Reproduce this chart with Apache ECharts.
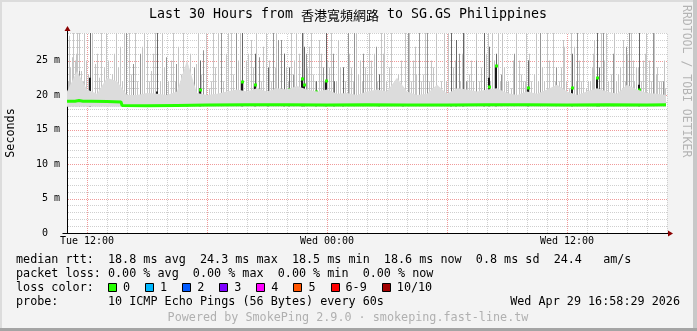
<!DOCTYPE html>
<html><head><meta charset="utf-8">
<script src="https://cdn.jsdelivr.net/npm/echarts@6/dist/echarts.min.js"></script>
<style>html,body{margin:0;padding:0;background:#f3f3f3}#c{width:697px;height:331px}</style>
</head><body><div id="c"></div><script>
// ---------- data (minutes since Tue 11:00, values in ms) ----------
const X_MAX = 1800, Y_MAX = 29;
const xLabelTimes = [60, 780, 1500];
const xLabelNames = ['Tue 12:00', 'Wed 00:00', 'Wed 12:00'];
const majorTimes = [60, 420, 780, 1140, 1500];
const majorValues = [5, 10, 15, 20, 25];
const yLabelValues = [0, 5, 10, 15, 20, 25];

const medianTimes = [0, 24, 36, 48, 72, 120, 162, 165, 240, 330, 420, 540, 660, 780, 900, 1020, 1140, 1260, 1380, 1500, 1620, 1740, 1797];
const medianValues = [19.1, 19.1, 19.2, 19.1, 19.1, 19.05, 19.0, 18.5, 18.45, 18.5, 18.55, 18.6, 18.6, 18.55, 18.6, 18.55, 18.55, 18.6, 18.6, 18.55, 18.6, 18.55, 18.6];

const hazeTimes = [0,30,60,90,120,150,180,210,240,270,300,330,360,390,420,450,480,510,540,570,600,630,660,690,720,750,780,810,840,870,900,930,960,990,1020,1050,1080,1110,1140,1170,1200,1230,1260,1290,1320,1350,1380,1410,1440,1470,1500,1530,1560,1590,1620,1650,1680,1710,1740,1770,1797];
const hazeTops = [20.5,23.5,20.8,20.2,22.5,22,20,20,20.3,20.2,20,20.5,25,20.3,20,20.2,20.5,20.8,20.5,21,20.5,21,20.8,21.3,20.8,20.5,20.8,20.2,20.3,20,20.5,20.8,20.5,22.5,20.5,20,20.2,21.5,20.2,21,20.8,20.5,20.8,21,20.3,20,20.5,20.2,20.8,21.5,20.5,20,20.5,21,20.5,20.2,21.5,20.8,20.3,20.2,20];

const lightSpikes = [[6,28.6],[15,25.5],[24,25],[30,29.5],[42,23.5],[57,25],[84,24.5],[117,29.5],[123,25],[135,23],[147,29.5],[159,27],[186,29.5],[240,28],[252,23.5],[312,25],[342,23],[387,24.5],[417,29.5],[426,21],
[453,29.5],[477,26],[492,29.5],[513,25],[537,25],[543,26],[552,28],[597,29.5],[606,25],[624,24],[672,29.5],[687,29.5],[696,26],[726,27],[738,23],[756,28],[786,24],[813,28],[852,24],[873,23],[894,24],
[906,29.5],[921,26],[948,26],[951,29.5],[966,24],[981,21],[993,23],[1026,29.5],[1038,25],[1047,23],[1068,23],[1092,25],[1107,29.5],[1116,20.5],[1143,29.5],[1158,24],[1185,26],[1206,23],[1218,22],[1227,29.5],[1257,26],[1275,29.5],[1293,29.5],[1311,24],[1323,22],[1332,21],
[1356,25],[1368,22],[1377,29.5],[1392,22],[1401,23],[1440,29.5],[1452,21],[1476,22],[1488,28],[1491,27],[1506,21],[1521,27],[1542,22],[1557,21],[1563,22],[1578,26],[1581,28],[1602,29.5],[1617,29.5],[1632,23],[1653,23],[1668,28],[1698,25],[1707,24],[1728,25],[1737,29.5],[1746,25],[1767,23],[1776,22],[1794,21],
[3,22],[10,24],[19,29.5],[27,26],[36,29.5],[48,22],[51,29.5],[63,23],[75,29.5],[90,26],[96,22.5],[102,29.5],[111,24],[129,22],[141,26],[153,24],[165,22],[171,29.5],[192,23],[204,29.5],[210,22],[225,27],[231,29.5],[246,22],[258,26],[264,29.5],[279,22],[285,29.5],[291,24],[303,22],[318,29.5],[324,22],[333,27],[348,29.5],[354,22],[369,26],[375,22],[393,29.5],[402,23],[432,22],[438,29.5],[444,24],[468,22],[483,29.5],[498,23],[519,29.5],[528,22],[558,24],[567,29.5],[582,22],[588,27],[612,22],[627,29.5],[657,24],[663,22],[681,25],[702,22],[708,29.5],[720,24],[732,29.5],[744,22],[762,26],[771,22],[780,25],[792,29.5],[807,22],[819,24],[834,22],[846,26],[858,22],[867,29.5],[879,25],[885,22],[900,23],[912,25],[930,22],[942,29.5],[957,22],[972,29.5],[987,22],[1002,25],[1014,29.5],[1032,22],[1044,27],[1062,22],[1074,29.5],[1086,22],[1098,24],[1122,22],[1131,29.5],[1137,22],[1164,25],[1179,22],[1191,29.5],[1200,22],[1212,25],[1236,22],[1242,24],[1263,29.5],[1269,22],[1281,25],[1299,22],[1305,29.5],[1317,22],[1338,25],[1347,29.5],[1362,23],[1374,22],[1386,26],[1407,29.5],[1413,22],[1425,24],[1431,22],[1446,25],[1458,29.5],[1464,22],[1482,24],[1497,22],[1512,29.5],[1527,22],[1536,25],[1548,29.5],[1569,22],[1575,24],[1587,22],[1611,25],[1623,22],[1641,29.5],[1647,22],[1659,24],[1674,22],[1680,26],[1692,29.5],[1701,22],[1713,24],[1722,22],[1734,26],[1752,22],[1761,29.5],[1770,24],[1782,22],[1791,25]];

const midSpikes = [[36,23.5],[177,29.5],[198,24.5],[219,26],[297,25.5],[327,24.5],[363,24],[381,24],[408,26.5],[462,29.5],[507,29.5],[576,25.5],[618,29.5],[633,28],[642,28],[651,26],[678,23],[717,26],[768,24],[798,26],[828,24],[843,29.5],[861,29.5],[888,26],[927,27],[936,23],[1023,29.5],[1056,29.5],[1080,29.5],[1152,29.5],[1167,28],[1176,26],[1197,22],[1227,25],[1251,29.5],[1302,23],[1341,26],[1383,25],[1419,29.5],[1467,24],[1530,29.5],[1608,29.5],[1638,26],[1677,27],[1686,29.5],[1758,29.5],[1788,22]];

const darkTimes =     [69,270,360,399,525,564,603,651,666,705,711,747,777,801,828,936,1008,1152,1167,1188,1251,1266,1287,1383,1515,1590,1596,1716];
const darkGrayTops =  [29.5,29.5,22,25,29.5,26,24,26,24,29.5,27,22,29.5,22,24,23,21,29.5,28,29.5,29.5,27,26,25,26,29.5,24,29.5];
const darkBlackTops = [22.5,20.5,20.0,21.0,22.0,21.5,20.3,20.3,20.8,22.5,21.5,20.6,22.2,19.5,19.2,20.0,20.5,20.3,20.5,20.6,19.8,22.5,24.3,21.1,21.1,22.6,20.6,21.5];
const darkMedians =   [20.2,19.1,19.8,20.8,21.9,21.4,20.2,20.2,20.7,22.4,21.4,20.5,22.1,19.4,19.2,19.5,19.5,19.6,20.0,20.5,19.7,21.2,24.2,21.0,21.0,22.5,20.5,20.7];

const rttStats = ['18.8', '24.3', '18.5', '18.6', '0.8', '24.4'];
const lossStats = ['0.00', '0.00', '0.00', '0.00'];
const lossLabels = ['0', '1', '2', '3', '4', '5', '6-9', '10/10'];
const lossColors = ['#26ff00', '#00b8ff', '#0059ff', '#7e00ff', '#ff00ff', '#ff5500', '#ff0000', '#a00000'];

// ---------- rendering ----------
const FONT = "'DejaVu Sans Mono', 'Noto Sans CJK TC', monospace";
const SMOKE_BASE = 18.3;
const LF = '11.75px ' + FONT;
const CW = 7.09;
const MAJOR = '#f09a9a';
const MINOR = '#cfcfcf';
const X_STEP = 60, Y_STEP = 1;

function spikeRender(color, w) {
  return function (params, api) {
    const t = api.value(0), top = api.value(1);
    const p = api.coord([t, top]);
    const b = api.coord([t, SMOKE_BASE]);
    return { type: 'rect', shape: { x: Math.round(p[0] - w / 2), y: p[1], width: w, height: b[1] - p[1] }, style: { fill: color } };
  };
}

// grid lines: items [x, y, kind(0 = vertical, 1 = horizontal), major(0/1)]
const gridItems = [];
for (let t = X_STEP; t <= X_MAX; t += X_STEP) gridItems.push([t, Y_MAX / 2, 0, majorTimes.indexOf(t) >= 0 ? 1 : 0]);
for (let v = Y_STEP; v <= Y_MAX; v += Y_STEP) gridItems.push([X_MAX / 2, v, 1, majorValues.indexOf(v) >= 0 ? 1 : 0]);
gridItems.sort((a, b) => a[3] - b[3]);

function gridRender(p, api) {
  const kind = api.value(2), color = api.value(3) ? MAJOR : MINOR;
  if (kind === 0) {
    const t = api.value(0);
    const a = api.coord([t, 0]), b = api.coord([t, Y_MAX]);
    const x = Math.round(a[0]) + 0.5;
    return { type: 'line', shape: { x1: x, y1: Math.round(a[1]), x2: x, y2: Math.round(b[1]) }, style: { stroke: color, lineWidth: 1, lineDash: [1, 1] } };
  }
  const v = api.value(1);
  const a = api.coord([0, v]), b = api.coord([X_MAX, v]);
  const y = Math.round(a[1]) + 0.5;
  return { type: 'line', shape: { x1: Math.round(a[0]) + 1, y1: y, x2: Math.round(b[0]) + 1, y2: y }, style: { stroke: color, lineWidth: 1, lineDash: [1, 1] } };
}

const chart = echarts.init(document.getElementById('c'), null, { renderer: 'canvas' });

const graphics = [
  { type: 'rect', shape: { x: 0, y: 0, width: 697, height: 331 }, style: { fill: '#f3f3f3' }, z: -10 },
  { type: 'rect', shape: { x: 0, y: 0, width: 2, height: 331 }, style: { fill: '#dcdcdc' }, z: -9 },
  { type: 'rect', shape: { x: 0, y: 0, width: 697, height: 2 }, style: { fill: '#dcdcdc' }, z: -9 },
  { type: 'rect', shape: { x: 693, y: 0, width: 4, height: 331 }, style: { fill: '#c8c8c8' }, z: -9 },
  { type: 'rect', shape: { x: 0, y: 328, width: 697, height: 3 }, style: { fill: '#a4a4a4' }, z: -9 },
  { type: 'text', x: 348, y: 15, style: { text: '{a|Last 30 Hours from }{b|香港寬頻網路}{a| to SG.GS Philippines}', align: 'center', verticalAlign: 'middle',
      rich: { a: { font: '13.3px ' + FONT, fill: '#000' }, b: { font: "13px 'Noto Sans CJK TC', sans-serif", fill: '#000' } } } },
  { type: 'text', x: 686, y: 5, rotation: -Math.PI / 2, style: { text: 'RRDTOOL / TOBI OETIKER', font: '11.5px ' + FONT, fill: '#b4b4b4', align: 'left', verticalAlign: 'middle' } },
  { type: 'text', x: 11, y: 133, rotation: Math.PI / 2, style: { text: 'Seconds', font: LF, fill: '#000', align: 'center', verticalAlign: 'middle' } },
  { type: 'text', x: 16, y: 259.5, style: { text: 'median rtt:  ' + rttStats[0] + ' ms avg  ' + rttStats[1] + ' ms max  ' + rttStats[2] + ' ms min  ' + rttStats[3] + ' ms now  ' + rttStats[4] + ' ms sd  ' + rttStats[5] + '   am/s', font: LF, fill: '#000', verticalAlign: 'middle' } },
  { type: 'text', x: 16, y: 273.5, style: { text: 'packet loss: ' + lossStats[0] + ' % avg  ' + lossStats[1] + ' % max  ' + lossStats[2] + ' % min  ' + lossStats[3] + ' % now', font: LF, fill: '#000', verticalAlign: 'middle' } },
  { type: 'text', x: 16, y: 287.5, style: { text: 'loss color:', font: LF, fill: '#000', verticalAlign: 'middle' } },
  { type: 'text', x: 16, y: 301.5, style: { text: 'probe:', font: LF, fill: '#000', verticalAlign: 'middle' } },
  { type: 'text', x: 108, y: 301.5, style: { text: '10 ICMP Echo Pings (56 Bytes) every 60s', font: LF, fill: '#000', verticalAlign: 'middle' } },
  { type: 'text', x: 680, y: 301.5, style: { text: 'Wed Apr 29 16:58:29 2026', font: LF, fill: '#000', align: 'right', verticalAlign: 'middle' } },
  { type: 'text', x: 348, y: 318, style: { text: 'Powered by SmokePing 2.9.0 · smokeping.fast-line.tw', font: LF, fill: '#b0b0b0', align: 'center', verticalAlign: 'middle' } }
];
let bx = 108;
lossLabels.forEach((lab, i) => {
  graphics.push({ type: 'rect', shape: { x: Math.round(bx) + 0.5, y: 283.5, width: 8, height: 8 }, style: { fill: lossColors[i], stroke: '#000', lineWidth: 1 } });
  graphics.push({ type: 'text', x: bx + 15, y: 287.5, style: { text: lab, font: LF, fill: '#000', verticalAlign: 'middle' } });
  bx = bx + 15 + lab.length * CW + 15;
});

const option = {
  animation: false,
  backgroundColor: '#f3f3f3',
  grid: { left: 67, top: 33, width: 600, height: 200, show: true, backgroundColor: '#ffffff', borderWidth: 0 },
  xAxis: {
    type: 'value', min: 0, max: X_MAX, interval: X_STEP,
    axisLine: { show: true, lineStyle: { color: '#000', width: 1 } },
    axisTick: { show: false },
    axisLabel: { fontFamily: FONT, fontSize: 10, color: '#000', margin: 3,
      formatter: v => { const i = xLabelTimes.indexOf(v); return i >= 0 ? xLabelNames[i] : ''; } },
    splitLine: { show: false }
  },
  yAxis: {
    type: 'value', min: 0, max: Y_MAX, interval: Y_STEP,
    axisLine: { show: true, lineStyle: { color: '#000', width: 1 } },
    axisTick: { show: false },
    axisLabel: { fontFamily: FONT, fontSize: 10, color: '#000', margin: 7,
      formatter: v => yLabelValues.indexOf(v) >= 0 ? (v === 0 ? '0  ' : v + ' m') : '' },
    splitLine: { show: false }
  },
  graphic: graphics,
  series: [
    { type: 'custom', name: 'gridLines', silent: true, clip: false, encode: { x: 0, y: 1 }, data: gridItems, renderItem: gridRender },
    { type: 'line', name: 'haze', silent: true, showSymbol: false, data: hazeTimes.map((t, i) => [t, hazeTops[i]]),
      lineStyle: { width: 0, color: '#dcdcdc' }, areaStyle: { color: '#dcdcdc', opacity: 1, origin: SMOKE_BASE } },
    { type: 'custom', name: 'light', silent: true, clip: true, encode: { x: 0, y: 1 }, data: lightSpikes, renderItem: spikeRender('#c4c4c4', 1) },
    { type: 'custom', name: 'mid', silent: true, clip: true, encode: { x: 0, y: 1 }, data: midSpikes, renderItem: spikeRender('#949494', 1) },
    { type: 'custom', name: 'darkGray', silent: true, clip: true, encode: { x: 0, y: 1 }, data: darkTimes.map((t, i) => [t, darkGrayTops[i]]), renderItem: spikeRender('#666666', 1) },
    { type: 'custom', name: 'dark', silent: true, clip: true, encode: { x: 0, y: 1 }, data: darkTimes.map((t, i) => [t, darkBlackTops[i]]), renderItem: spikeRender('#1a1a1a', 2) },
    { type: 'line', name: 'median', silent: true, showSymbol: false, data: medianTimes.map((t, i) => [t, medianValues[i]]),
      lineStyle: { width: 3, color: '#26ff00' } },
    { type: 'custom', name: 'medianSteps', silent: true, clip: true, encode: { x: 0, y: 1 }, data: darkTimes.map((t, i) => [t, darkMedians[i]]),
      renderItem: (p, api) => { const c = api.coord([api.value(0), api.value(1)]);
        return { type: 'rect', shape: { x: Math.round(c[0]) - 1, y: Math.round(c[1]) - 1.5, width: 3, height: 3 }, style: { fill: '#26ff00' } }; } },
    { type: 'custom', name: 'arrows', silent: true, clip: false, encode: { x: 0, y: 1 }, data: [[X_MAX / 2, Y_MAX / 2]],
      renderItem: (p, api) => { const o = api.coord([X_MAX, 0]), t = api.coord([0, Y_MAX]);
        const ox = Math.round(o[0]), oy = Math.round(o[1]) + 0.5, tx = Math.round(t[0]) + 0.5, ty = Math.round(t[1]);
        return { type: 'group', children: [
          { type: 'line', shape: { x1: ox, y1: oy, x2: ox + 2, y2: oy }, style: { stroke: '#000', lineWidth: 1 } },
          { type: 'polygon', shape: { points: [[ox + 1, oy - 3], [ox + 6, oy], [ox + 1, oy + 3]] }, style: { fill: '#8b0000' } },
          { type: 'line', shape: { x1: tx, y1: ty, x2: tx, y2: ty - 3 }, style: { stroke: '#000', lineWidth: 1 } },
          { type: 'line', shape: { x1: tx - 5, y1: Math.round(o[1]) + 0.5, x2: tx, y2: Math.round(o[1]) + 0.5 }, style: { stroke: '#000', lineWidth: 1 } },
          { type: 'polygon', shape: { points: [[tx - 3, ty - 2], [tx, ty - 7], [tx + 3, ty - 2]] }, style: { fill: '#8b0000' } }
        ] }; } }
  ]
};
chart.setOption(option);
</script></body></html>
